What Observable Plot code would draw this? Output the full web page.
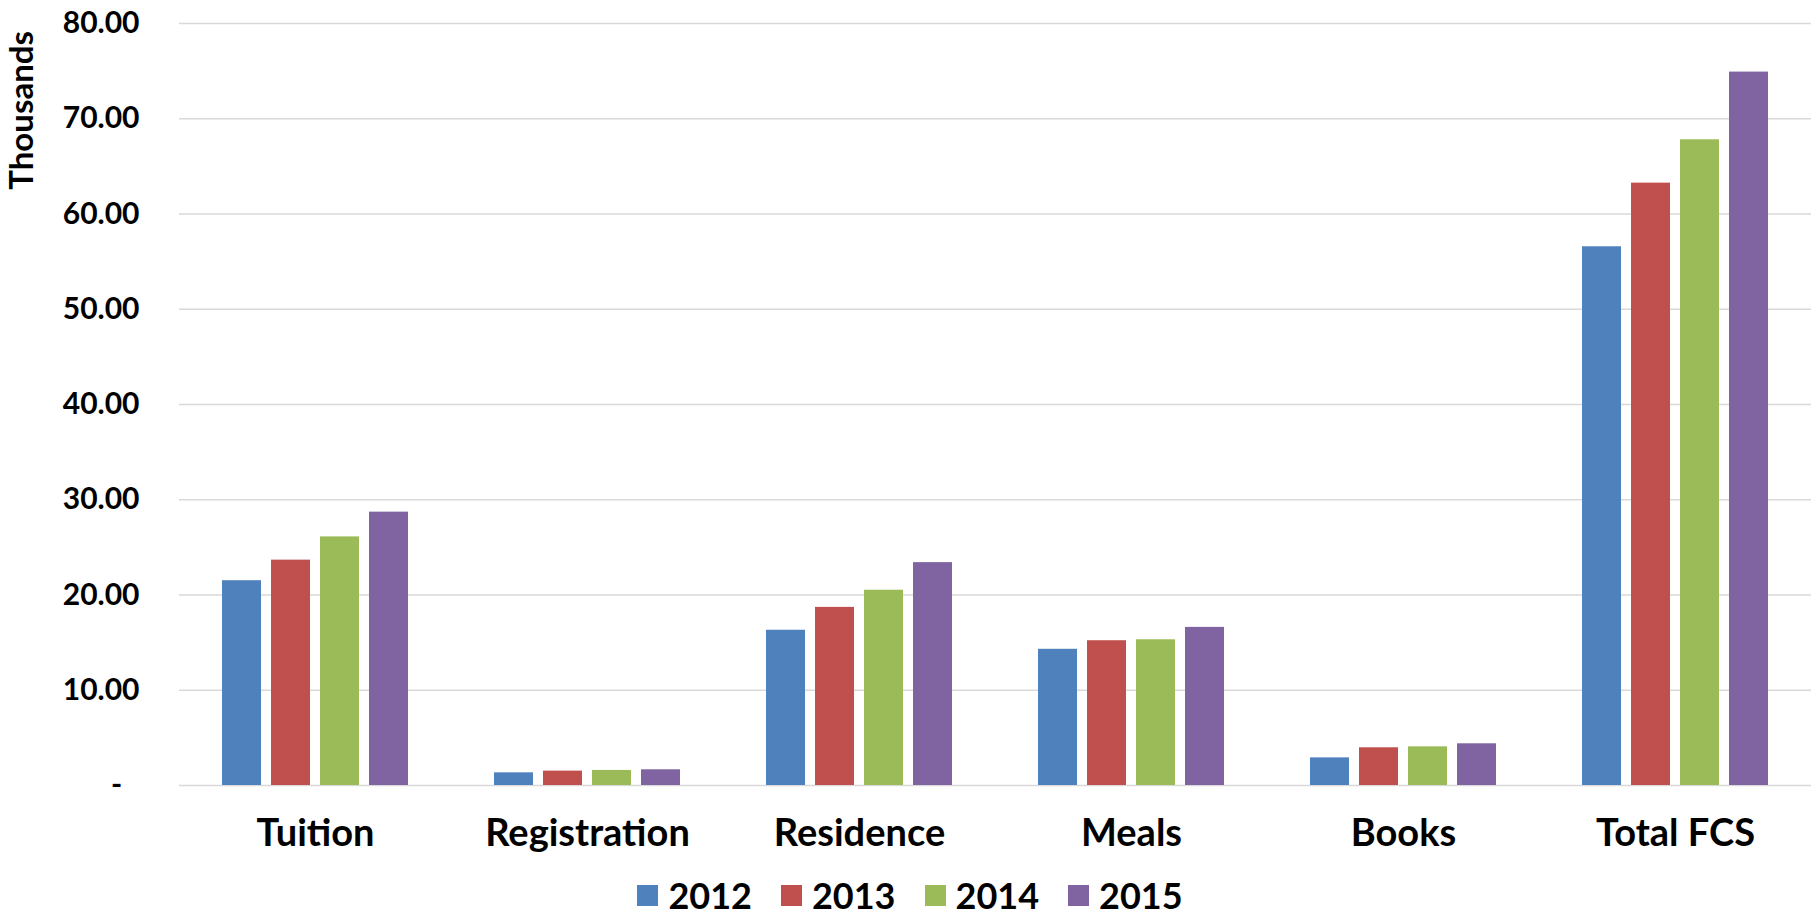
<!DOCTYPE html>
<html><head><meta charset="utf-8">
<script src="https://cdn.jsdelivr.net/npm/d3@7"></script>
<script src="https://cdn.jsdelivr.net/npm/@observablehq/plot@0.6"></script>
<style>
body{margin:0;background:#fff;font-family:Lato,"Open Sans",sans-serif;font-weight:700;color:#000;}
#wrap{position:relative;width:1816px;height:920px;overflow:hidden;}
#ylab{position:absolute;left:3px;top:31px;writing-mode:vertical-rl;transform:rotate(180deg);font-size:33px;line-height:34px;font-weight:700;}
#legend{position:absolute;left:0;top:875px;width:1816px;height:40px;display:flex;justify-content:center;align-items:center;gap:29px;padding-left:4px;box-sizing:border-box;}
.item{display:flex;align-items:center;gap:10px;font-size:36px;line-height:38px;font-weight:700;}
.sw{width:21px;height:21px;display:inline-block;}
</style></head>
<body><div id="wrap"><div id="chart"></div><div id="ylab">Thousands</div><div id="legend"></div></div>
<script>
const categories = ["Tuition","Registration","Residence","Meals","Books","Total FCS"];
const years = ["2012","2013","2014","2015"];
const v2012 = [21.5, 1.33, 16.3, 14.3, 2.9, 56.56];
const v2013 = [23.66, 1.51, 18.7, 15.2, 3.96, 63.24];
const v2014 = [26.1, 1.58, 20.5, 15.3, 4.06, 67.79];
const v2015 = [28.7, 1.65, 23.4, 16.6, 4.38, 74.9];
const colors = ["#4F81BD","#C0504D","#9BBB59","#8064A2"];
const yTicks = [0,10,20,30,40,50,60,70,80];

const series = [v2012, v2013, v2014, v2015];
const data = [];
categories.forEach((c, i) => years.forEach((y, j) => data.push({category: c, year: y, value: series[j][i]})));

const fmt = d3.format(".2f");
const chart = Plot.plot({
  width: 1816, height: 860,
  marginLeft: 178, marginRight: 5, marginTop: 23, marginBottom: 75,
  style: {fontFamily: "Lato, 'Open Sans', sans-serif", fontWeight: 700, color: "#000", background: "#fff"},
  fx: {domain: categories, padding: 0, label: null},
  x: {domain: years, paddingInner: 0.21, paddingOuter: 0.86, axis: null},
  y: {domain: [0, 80], label: null},
  color: {domain: years, range: colors},
  marks: [
    Plot.ruleY(yTicks, {stroke: "#d9d9d9", strokeWidth: 1.4}),
    Plot.barY(data, {fx: "category", x: "year", y: "value", fill: "year"}),
    Plot.axisY({ticks: yTicks, tickSize: 0, tickPadding: 40, fontSize: 30, label: null,
      tickFormat: d => d === 0 ? "-\u2007" : fmt(d)}),
    Plot.axisFx({anchor: "bottom", tickSize: 0, tickPadding: 34, fontSize: 38, label: null})
  ]
});
document.getElementById("chart").appendChild(chart);

const leg = document.getElementById("legend");
years.forEach((y, i) => {
  const it = document.createElement("div");
  it.className = "item";
  const sw = document.createElement("span");
  sw.className = "sw";
  sw.style.background = colors[i];
  const t = document.createElement("span");
  t.textContent = y;
  it.appendChild(sw); it.appendChild(t);
  leg.appendChild(it);
});
</script>
</body></html>
